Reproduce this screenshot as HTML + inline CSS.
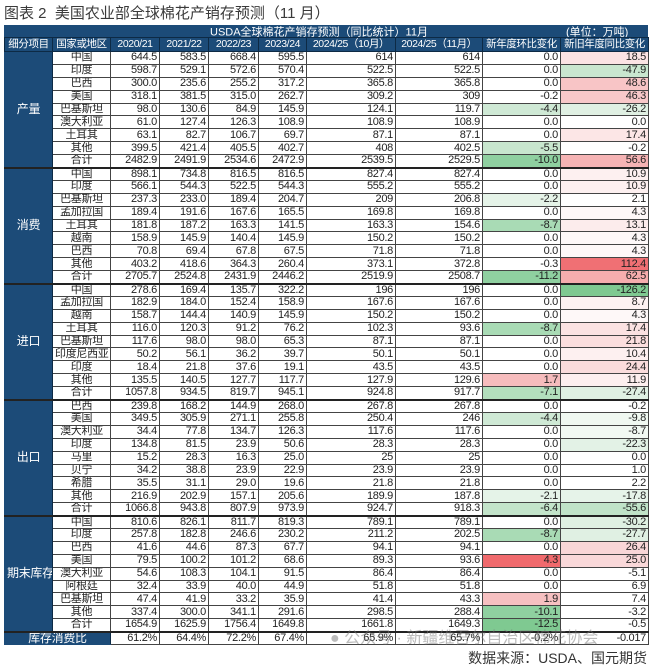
<!DOCTYPE html>
<html><head><meta charset="utf-8">
<style>
html,body{margin:0;padding:0;background:#fff;width:651px;height:666px;overflow:hidden;position:relative;font-family:"Liberation Sans","Noto Sans CJK SC",sans-serif;}
.title{position:absolute;left:4px;top:2px;font-size:15px;color:#3a3a3a;white-space:nowrap;}
.src{position:absolute;right:4px;top:648px;font-size:14px;color:#333;}
.hdsvg{position:absolute;left:4px;top:25px;}
table{position:absolute;left:4px;top:37px;border-collapse:collapse;table-layout:fixed;width:644px;font-size:11px;}
td{padding:0 2px;line-height:11px;height:12.9px;box-sizing:border-box;border:1px solid #444;text-align:right;color:#222;white-space:nowrap;overflow:hidden;letter-spacing:-0.3px;}
td.n{text-align:center;}
td.c{background:#1c4b78;color:#fff;text-align:center;border:1px solid #1c4b78;border-right:1px solid #0d2a45;font-size:12px;}
tr.h2 td{background:#1c4b78;color:#fff;height:14px;border:1px solid #0d2a45;text-align:center;font-size:10.5px;padding:0;letter-spacing:-0.4px;}
tr.sec td{border-top:2px solid #222;}
.wm{position:absolute;left:330px;top:624px;font-size:16px;color:rgba(120,120,120,0.5);white-space:nowrap;}
</style></head><body>
<div class="title">图表 2&nbsp; 美国农业部全球棉花产销存预测（11 月）</div>
<svg class="hdsvg" width="644" height="13" viewBox="0 0 644 13"><rect x="0" y="0" width="644" height="13" fill="#1c4b78"/><text x="206" y="10.5" fill="#ffffff" font-size="11" font-family="Liberation Sans, Noto Sans CJK SC, sans-serif">USDA全球棉花产销存预测（同比统计）11月</text><text x="562" y="10.5" fill="#ffffff" font-size="11" font-family="Liberation Sans, Noto Sans CJK SC, sans-serif">(单位：万吨)</text></svg>
<table>
<colgroup><col style="width:48px"><col style="width:58px"><col style="width:49px"><col style="width:49px"><col style="width:50px"><col style="width:48px"><col style="width:89px"><col style="width:87px"><col style="width:78px"><col style="width:88px"></colgroup>
<tr class="h2"><td>细分项目</td><td>国家或地区</td><td>2020/21</td><td>2021/22</td><td>2022/23</td><td>2023/24</td><td>2024/25（10月）</td><td>2024/25（11月）</td><td>新年度环比变化</td><td>新旧年度同比变化</td></tr>

<tr><td class="c" rowspan="9">产量</td><td class="n">中国</td><td>644.5</td><td>583.5</td><td>668.4</td><td>595.5</td><td>614</td><td>614</td><td>0.0</td><td style="background:#fbe3e4">18.5</td></tr>
<tr><td class="n">印度</td><td>598.7</td><td>529.1</td><td>572.6</td><td>570.4</td><td>522.5</td><td>522.5</td><td>0.0</td><td style="background:#c9e6cf">-47.9</td></tr>
<tr><td class="n">巴西</td><td>300.0</td><td>235.6</td><td>255.2</td><td>317.2</td><td>365.8</td><td>365.8</td><td>0.0</td><td style="background:#f8c5c6">48.6</td></tr>
<tr><td class="n">美国</td><td>318.1</td><td>381.5</td><td>315.0</td><td>262.7</td><td>309.2</td><td>309</td><td>-0.2</td><td style="background:#f8c8c9">46.3</td></tr>
<tr><td class="n">巴基斯坦</td><td>98.0</td><td>130.6</td><td>84.9</td><td>145.9</td><td>124.1</td><td>119.7</td><td style="background:#cfe9d5">-4.4</td><td style="background:#e0f0e3">-26.2</td></tr>
<tr><td class="n">澳大利亚</td><td>61.0</td><td>127.4</td><td>126.3</td><td>108.9</td><td>108.9</td><td>108.9</td><td>0.0</td><td>0.0</td></tr>
<tr><td class="n">土耳其</td><td>63.1</td><td>82.7</td><td>106.7</td><td>69.7</td><td>87.1</td><td>87.1</td><td>0.0</td><td style="background:#fce6e6">17.4</td></tr>
<tr><td class="n">其他</td><td>399.5</td><td>421.4</td><td>405.5</td><td>402.7</td><td>408</td><td>402.5</td><td style="background:#c8e6ce">-5.5</td><td>-0.2</td></tr>
<tr><td class="n">合计</td><td>2482.9</td><td>2491.9</td><td>2534.6</td><td>2472.9</td><td>2539.5</td><td>2529.5</td><td style="background:#8fd0a0">-10.0</td><td style="background:#f5b3b4">56.6</td></tr>

<tr class="sec"><td class="c" rowspan="9">消费</td><td class="n">中国</td><td>898.1</td><td>734.8</td><td>816.5</td><td>816.5</td><td>827.4</td><td>827.4</td><td>0.0</td><td style="background:#fdf0f0">10.9</td></tr>
<tr><td class="n">印度</td><td>566.1</td><td>544.3</td><td>522.5</td><td>544.3</td><td>555.2</td><td>555.2</td><td>0.0</td><td style="background:#fdf0f0">10.9</td></tr>
<tr><td class="n">巴基斯坦</td><td>237.3</td><td>233.0</td><td>189.4</td><td>204.7</td><td>209</td><td>206.8</td><td style="background:#e5f3e8">-2.2</td><td>2.1</td></tr>
<tr><td class="n">孟加拉国</td><td>189.4</td><td>191.6</td><td>167.6</td><td>165.5</td><td>169.8</td><td>169.8</td><td>0.0</td><td style="background:#fef8f8">4.3</td></tr>
<tr><td class="n">土耳其</td><td>181.8</td><td>187.2</td><td>163.3</td><td>141.5</td><td>163.3</td><td>154.6</td><td style="background:#a9dbb5">-8.7</td><td style="background:#fcecec">13.1</td></tr>
<tr><td class="n">越南</td><td>158.9</td><td>145.9</td><td>140.4</td><td>145.9</td><td>150.2</td><td>150.2</td><td>0.0</td><td style="background:#fef8f8">4.3</td></tr>
<tr><td class="n">巴西</td><td>70.8</td><td>69.4</td><td>67.8</td><td>67.5</td><td>71.8</td><td>71.8</td><td>0.0</td><td style="background:#fef8f8">4.3</td></tr>
<tr><td class="n">其他</td><td>403.2</td><td>418.6</td><td>364.3</td><td>260.4</td><td>373.1</td><td>372.8</td><td>-0.3</td><td style="background:#f07074">112.4</td></tr>
<tr><td class="n">合计</td><td>2705.7</td><td>2524.8</td><td>2431.9</td><td>2446.2</td><td>2519.9</td><td>2508.7</td><td style="background:#8fd0a0">-11.2</td><td style="background:#f6adae">62.5</td></tr>

<tr class="sec"><td class="c" rowspan="9">进口</td><td class="n">中国</td><td>278.6</td><td>169.4</td><td>135.7</td><td>322.2</td><td>196</td><td>196</td><td>0.0</td><td style="background:#7fc991">-126.2</td></tr>
<tr><td class="n">孟加拉国</td><td>182.9</td><td>184.0</td><td>152.4</td><td>158.9</td><td>167.6</td><td>167.6</td><td>0.0</td><td style="background:#fdf2f2">8.7</td></tr>
<tr><td class="n">越南</td><td>158.7</td><td>144.4</td><td>140.9</td><td>145.9</td><td>150.2</td><td>150.2</td><td>0.0</td><td style="background:#fef8f8">4.3</td></tr>
<tr><td class="n">土耳其</td><td>116.0</td><td>120.3</td><td>91.2</td><td>76.2</td><td>102.3</td><td>93.6</td><td style="background:#a9dbb5">-8.7</td><td style="background:#fbe2e2">17.4</td></tr>
<tr><td class="n">巴基斯坦</td><td>117.6</td><td>98.0</td><td>98.0</td><td>65.3</td><td>87.1</td><td>87.1</td><td>0.0</td><td style="background:#fbdede">21.8</td></tr>
<tr><td class="n">印度尼西亚</td><td>50.2</td><td>56.1</td><td>36.2</td><td>39.7</td><td>50.1</td><td>50.1</td><td>0.0</td><td style="background:#fdf0f0">10.4</td></tr>
<tr><td class="n">印度</td><td>18.4</td><td>21.8</td><td>37.6</td><td>19.1</td><td>43.5</td><td>43.5</td><td>0.0</td><td style="background:#fadcdc">24.4</td></tr>
<tr><td class="n">其他</td><td>135.5</td><td>140.5</td><td>127.7</td><td>117.7</td><td>127.9</td><td>129.6</td><td style="background:#f6bcbd">1.7</td><td style="background:#fdefef">11.9</td></tr>
<tr><td class="n">合计</td><td>1057.8</td><td>934.5</td><td>819.7</td><td>945.1</td><td>924.8</td><td>917.7</td><td style="background:#b3dfbd">-7.1</td><td style="background:#e0f0e3">-27.4</td></tr>

<tr class="sec"><td class="c" rowspan="9">出口</td><td class="n">巴西</td><td>239.8</td><td>168.2</td><td>144.9</td><td>268.0</td><td>267.8</td><td>267.8</td><td>0.0</td><td>-0.2</td></tr>
<tr><td class="n">美国</td><td>349.5</td><td>305.9</td><td>271.1</td><td>255.8</td><td>250.4</td><td>246</td><td style="background:#cfe9d5">-4.4</td><td style="background:#f0f8f1">-9.8</td></tr>
<tr><td class="n">澳大利亚</td><td>34.4</td><td>77.8</td><td>134.7</td><td>126.3</td><td>117.6</td><td>117.6</td><td>0.0</td><td style="background:#f2f9f3">-8.7</td></tr>
<tr><td class="n">印度</td><td>134.8</td><td>81.5</td><td>23.9</td><td>50.6</td><td>28.3</td><td>28.3</td><td>0.0</td><td style="background:#e3f2e6">-22.3</td></tr>
<tr><td class="n">马里</td><td>15.2</td><td>28.3</td><td>16.3</td><td>25.0</td><td>25</td><td>25</td><td>0.0</td><td>0.0</td></tr>
<tr><td class="n">贝宁</td><td>34.2</td><td>38.8</td><td>23.9</td><td>22.9</td><td>23.9</td><td>23.9</td><td>0.0</td><td>1.0</td></tr>
<tr><td class="n">希腊</td><td>35.5</td><td>31.1</td><td>29.0</td><td>19.6</td><td>21.8</td><td>21.8</td><td>0.0</td><td>2.2</td></tr>
<tr><td class="n">其他</td><td>216.9</td><td>202.9</td><td>157.1</td><td>205.6</td><td>189.9</td><td>187.8</td><td style="background:#e5f3e8">-2.1</td><td style="background:#e6f3e9">-17.8</td></tr>
<tr><td class="n">合计</td><td>1066.8</td><td>943.8</td><td>807.9</td><td>973.9</td><td>924.7</td><td>918.3</td><td style="background:#c3e4ca">-6.4</td><td style="background:#c0e3c8">-55.6</td></tr>

<tr class="sec"><td class="c" rowspan="9">期末库存</td><td class="n">中国</td><td>810.6</td><td>826.1</td><td>811.7</td><td>819.3</td><td>789.1</td><td>789.1</td><td>0.0</td><td style="background:#dff0e2">-30.2</td></tr>
<tr><td class="n">印度</td><td>257.8</td><td>182.8</td><td>246.6</td><td>230.2</td><td>211.2</td><td>202.5</td><td style="background:#a9dbb5">-8.7</td><td style="background:#e0f0e3">-27.7</td></tr>
<tr><td class="n">巴西</td><td>41.6</td><td>44.6</td><td>87.3</td><td>67.7</td><td>94.1</td><td>94.1</td><td>0.0</td><td style="background:#f9d6d7">26.4</td></tr>
<tr><td class="n">美国</td><td>79.5</td><td>100.2</td><td>101.2</td><td>68.6</td><td>89.3</td><td>93.6</td><td style="background:#f06a6d">4.3</td><td style="background:#f9d8d9">25.0</td></tr>
<tr><td class="n">澳大利亚</td><td>54.6</td><td>108.3</td><td>104.1</td><td>91.5</td><td>86.4</td><td>86.4</td><td>0.0</td><td>-5.1</td></tr>
<tr><td class="n">阿根廷</td><td>32.4</td><td>33.9</td><td>40.0</td><td>44.9</td><td>51.8</td><td>51.8</td><td>0.0</td><td>6.9</td></tr>
<tr><td class="n">巴基斯坦</td><td>47.4</td><td>41.9</td><td>33.2</td><td>35.9</td><td>41.4</td><td>43.3</td><td style="background:#f6c0c1">1.9</td><td>7.4</td></tr>
<tr><td class="n">其他</td><td>337.4</td><td>300.0</td><td>341.1</td><td>291.6</td><td>298.5</td><td>288.4</td><td style="background:#8fd0a0">-10.1</td><td>-3.2</td></tr>
<tr><td class="n">合计</td><td>1654.9</td><td>1625.9</td><td>1756.4</td><td>1649.8</td><td>1661.8</td><td>1649.3</td><td style="background:#7fc991">-12.5</td><td>-0.5</td></tr>
<tr class="sec"><td class="c" colspan="2">库存消费比</td><td>61.2%</td><td>64.4%</td><td>72.2%</td><td>67.4%</td><td>65.9%</td><td>65.7%</td><td>-0.2%</td><td>-0.017</td></tr>
</table>
<div class="wm">● 公众号 · 新疆维吾尔自治区棉花协会</div>
<div class="src">数据来源：USDA、国元期货</div>
</body></html>
